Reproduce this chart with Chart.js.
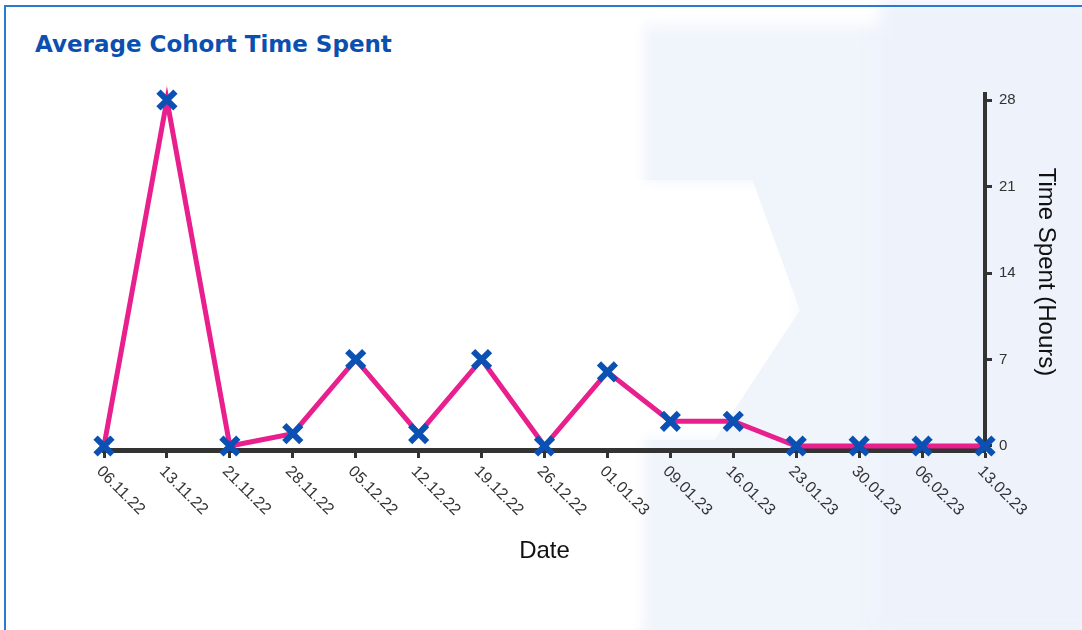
<!DOCTYPE html>
<html>
<head>
<meta charset="utf-8">
<script src="https://cdn.jsdelivr.net/npm/chart.js@4.4.0/dist/chart.umd.min.js"></script>
<style>
  html, body { margin: 0; padding: 0; background: #fff; }
  body { width: 1082px; height: 630px; overflow: hidden; position: relative; }
  .bg { position: absolute; filter: blur(8px); }
  .frame {
    position: absolute; left: 4px; top: 5px; width: 1100px; height: 700px;
    border-left: 2px solid #2a7ad0; border-top: 2px solid #2a7ad0;
  }
  h2 {
    position: absolute; left: 35px; top: 31px; margin: 0;
    font: bold 23px "DejaVu Sans", sans-serif; color: #0a50b0;
  }
  #wrap { position: absolute; left: 0; top: 0; width: 1082px; height: 630px; }
</style>
</head>
<body>
<!-- faint watermark behind the chart -->
<div class="bg" style="left:640px;top:25px;width:460px;height:640px;background:#f0f4fb;"></div>
<div class="bg" style="left:880px;top:0px;width:220px;height:630px;background:#edf2fb;"></div>
<div class="bg" style="left:610px;top:180px;width:190px;height:260px;background:#fff;clip-path:polygon(0 0,75% 0,100% 50%,55% 100%,0 100%);"></div>
<div class="bg" style="left:600px;top:0px;width:40px;height:630px;background:#fff;"></div>
<div class="frame"></div>
<h2>Average Cohort Time Spent</h2>
<div id="wrap"><canvas id="myChart" width="1082" height="630"></canvas></div>
<script>
var dates = ["06.11.22", "13.11.22", "21.11.22", "28.11.22", "05.12.22", "12.12.22", "19.12.22", "26.12.22",
    "01.01.23", "09.01.23", "16.01.23", "23.01.23", "30.01.23", "06.02.23", "13.02.23"];
var hours = [0, 28, 0, 1, 7, 1, 7, 0, 6, 2, 2, 0, 0, 0, 0];
var yTicks = [0, 7, 14, 21, 28];

// x labels run down-right from each tick, chart.js can't anchor them that way
var slantLabels = {
    id: "slantLabels",
    afterDraw(chart) {
        const ctx = chart.ctx;
        const xs = chart.scales.x;
        ctx.save();
        ctx.font = "16px 'Liberation Sans', Arial, sans-serif";
        ctx.fillStyle = "#333";
        ctx.textAlign = "left";
        ctx.textBaseline = "middle";
        dates.forEach((d, i) => {
            const x = xs.getPixelForTick(i);
            ctx.save();
            ctx.translate(x - 5, xs.top + 19);
            ctx.rotate(Math.PI / 4);
            ctx.fillText(d, 0, 0);
            ctx.restore();
        });
        ctx.restore();
    }
};

new Chart("myChart", {
    type: "line",
    data: {
        labels: dates,
        datasets: [{
            data: hours,
            clip: false,
            borderColor: "#e81f8c",
            borderWidth: 5,
            pointStyle: "crossRot",
            pointRadius: 12,
            pointBorderWidth: 6,
            pointBorderColor: "#0b50b3",
            pointBackgroundColor: "#0b50b3",
            tension: 0
        }]
    },
    options: {
        responsive: false,
        animation: false,
        layout: { padding: { left: 104, top: 94, right: 0, bottom: 0 } },
        plugins: {
            legend: { display: false },
            tooltip: { enabled: false }
        },
        scales: {
            x: {
                offset: false,
                grid: { drawOnChartArea: false, drawTicks: true, tickLength: 8, tickWidth: 3, tickColor: "#333" },
                border: { display: true, color: "#333", width: 5 },
                ticks: { display: false },
                title: {
                    display: true, text: "Date", color: "#111",
                    font: { family: "'Liberation Sans', Arial, sans-serif", size: 24 },
                    padding: { top: 0, bottom: 64 }
                },
                afterFit(scale) { scale.height = 180; }
            },
            y: {
                position: "right",
                min: -0.324,
                max: 28.486,
                afterBuildTicks(scale) { scale.ticks = yTicks.map(v => ({ value: v })); },
                grid: { drawOnChartArea: false, drawTicks: true, tickLength: 7, tickWidth: 3, tickColor: "#333" },
                border: { display: true, color: "#333", width: 4 },
                ticks: {
                    color: "#333", padding: 7,
                    font: { family: "'Liberation Sans', Arial, sans-serif", size: 15 }
                },
                title: {
                    display: true, text: "Time Spent (Hours)", color: "#111",
                    font: { family: "'Liberation Sans', Arial, sans-serif", size: 24 },
                    padding: { top: 22, bottom: 0 }
                },
                afterFit(scale) { scale.width = 97; }
            }
        }
    },
    plugins: [slantLabels]
});
</script>
</body>
</html>
